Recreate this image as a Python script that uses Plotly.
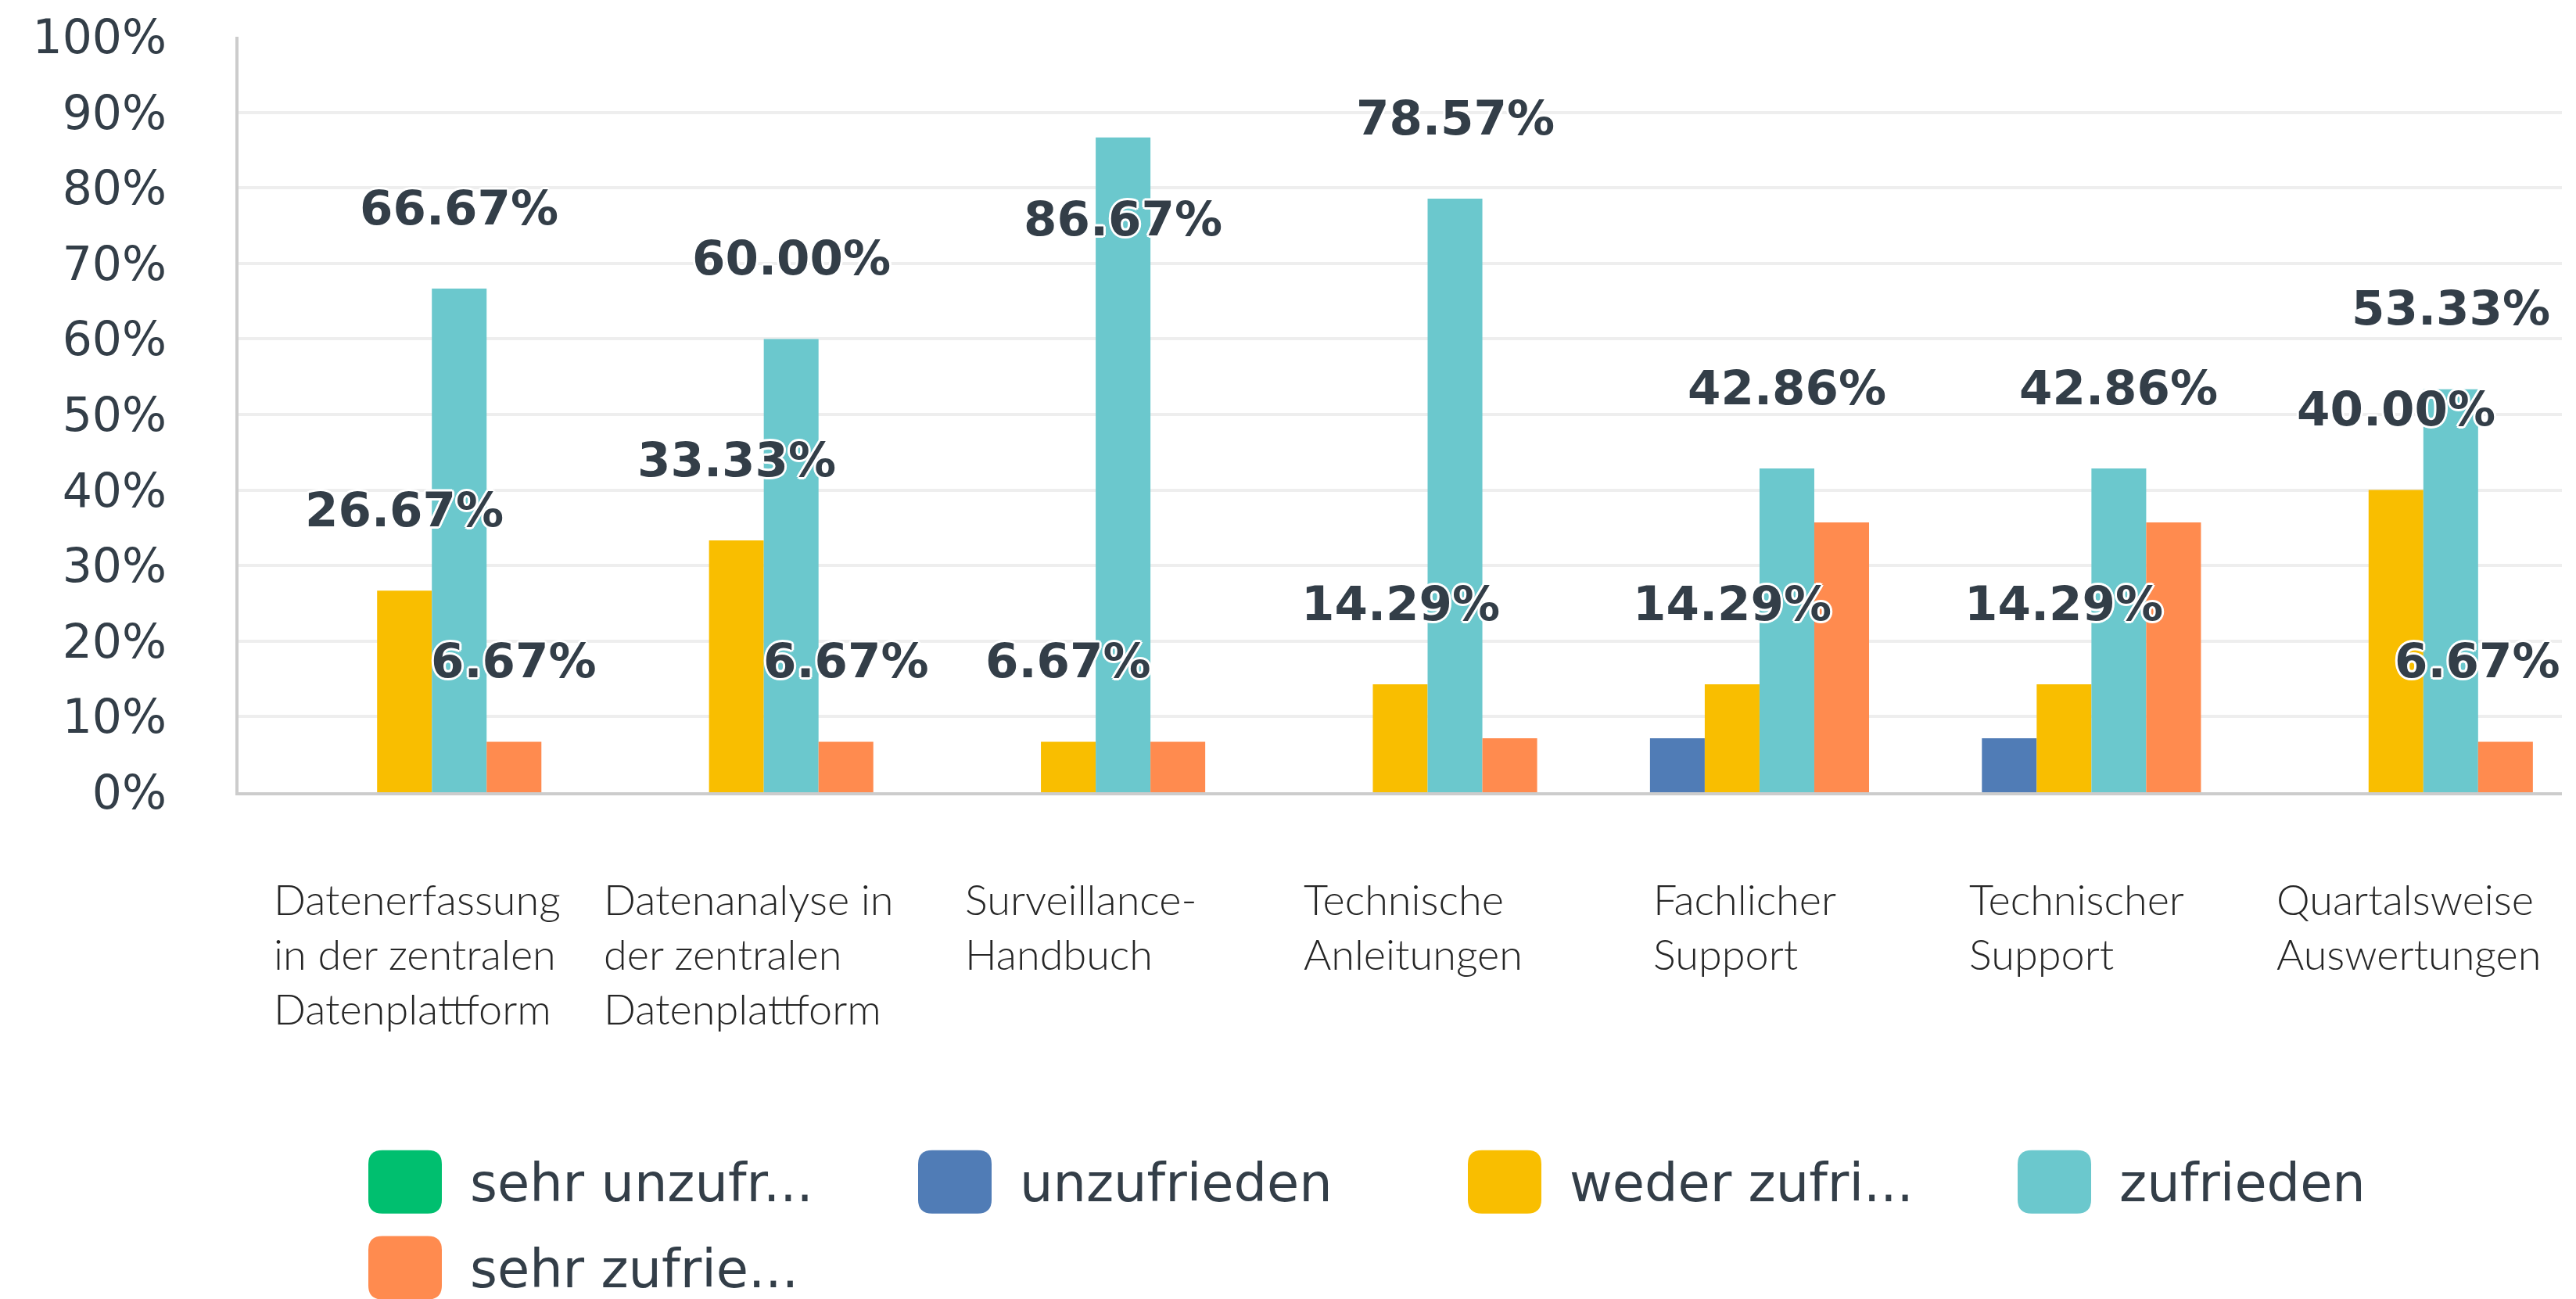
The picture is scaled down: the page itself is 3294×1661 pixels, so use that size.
import plotly.graph_objects as go

# ---------------- data ----------------
categories = [
    "Datenerfassung in der zentralen Datenplattform",
    "Datenanalyse in der zentralen Datenplattform",
    "Surveillance-Handbuch",
    "Technische Anleitungen",
    "Fachlicher Support",
    "Technischer Support",
    "Quartalsweise Auswertungen",
]
category_labels = [
    "Datenerfassung<br>in der zentralen<br>Datenplattform",
    "Datenanalyse in<br>der zentralen<br>Datenplattform",
    "Surveillance-<br>Handbuch",
    "Technische<br>Anleitungen",
    "Fachlicher<br>Support",
    "Technischer<br>Support",
    "Quartalsweise<br>Auswertungen",
]
series_names = ["sehr unzufr...", "unzufrieden", "weder zufri...", "zufrieden", "sehr zufrie..."]
sehr_unzufrieden = [0, 0, 0, 0, 0, 0, 0]
unzufrieden = [0, 0, 0, 0, 7.14, 7.14, 0]
weder = [26.67, 33.33, 6.67, 14.29, 14.29, 14.29, 40.00]
zufrieden = [66.67, 60.00, 86.67, 78.57, 42.86, 42.86, 53.33]
sehr_zufrieden = [6.67, 6.67, 6.67, 7.14, 35.71, 35.71, 6.67]
# which value labels are visible in the original (others hidden by overlap)
shown_sehr_unzufrieden = [0, 0, 0, 0, 0, 0, 0]
shown_unzufrieden = [0, 0, 0, 0, 0, 0, 0]
shown_weder = [1, 1, 1, 1, 1, 1, 1]
shown_zufrieden = [1, 1, 1, 1, 1, 1, 1]
shown_sehr_zufrieden = [1, 1, 0, 0, 0, 0, 1]
y_ticks = [0, 10, 20, 30, 40, 50, 60, 70, 80, 90, 100]
y_tick_text = ["0%", "10%", "20%", "30%", "40%", "50%", "60%", "70%", "80%", "90%", "100%"]

series_values = [sehr_unzufrieden, unzufrieden, weder, zufrieden, sehr_zufrieden]
series_shown = [shown_sehr_unzufrieden, shown_unzufrieden, shown_weder, shown_zufrieden, shown_sehr_zufrieden]
colors = ["#00BF6F", "#507CB6", "#F9BE00", "#6BC8CD", "#FF8B4F"]

# ---------------- layout constants ----------------
W, H = 3294, 1661
ML, MR, MT, MB = 305, 18, 36, 648
PW, PH = W - ML - MR, H - MT - MB
TEXT = "#333e48"
LIFT = 10.75      # label offset above bar top (in axis units)
FLIP_LIMIT = 95   # labels that would go above this are placed inside the bar
GAP = 0.175
LABEL_SIZE = 61
# approx. advance widths (em) of DejaVu Sans Bold for label characters
CHAR_W = {"%": 1.002, ".": 0.38}
DIGIT_W = 0.696

fig = go.Figure()
for name, vals, col in zip(series_names, series_values, colors):
    fig.add_trace(go.Bar(
        x=categories, y=vals, name=name, marker=dict(color=col, line=dict(width=0)),
        offsetgroup=name, showlegend=False, hoverinfo="skip",
    ))

halo = ("3px 0 0 #fff, -3px 0 0 #fff, 0 3px 0 #fff, 0 -3px 0 #fff, "
        "2px 2px 0 #fff, -2px -2px 0 #fff, 2px -2px 0 #fff, -2px 2px 0 #fff")
annotations = []
n_ser, n_cat = len(series_names), len(categories)
bw = (1 - GAP) / n_ser  # bar width in category units (bargroupgap = 0)
for k, (vals, shown) in enumerate(zip(series_values, series_shown)):
    for i, (v, s) in enumerate(zip(vals, shown)):
        if not (s and v > 0):
            continue
        txt = f"{v:.2f}%"
        xc = i + (k - (n_ser - 1) / 2) * bw
        y = v + LIFT if v + LIFT <= FLIP_LIMIT else v - LIFT
        width_px = LABEL_SIZE * sum(CHAR_W.get(c, DIGIT_W) for c in txt)
        center_px = ML + (xc + 0.5) / n_cat * PW
        ann = dict(x=xc, xref="x", y=y, yref="y", xanchor="center", yanchor="middle",
                   text=txt, showarrow=False,
                   font=dict(family="DejaVu Sans", size=LABEL_SIZE, color=TEXT,
                             weight="bold", shadow=halo))
        if center_px + width_px / 2 > ML + PW:   # keep label inside plot (as original)
            ann.update(x=n_cat - 0.5, xanchor="right")
        annotations.append(ann)

for cat, lab in zip(categories, category_labels):
    annotations.append(dict(
        x=cat, xref="x", y=0, yref="paper", yanchor="top", xanchor="center",
        yshift=-102, xshift=16, text=lab, align="left", showarrow=False,
        font=dict(family="Lato", size=54, color="#262626", weight=300),
    ))

# legend drawn as large rounded swatches
shapes = []
SW, SH, R = 94, 82, 18
LEG_X0, LEG_DX, LEG_Y0, LEG_DY, PER_ROW = 471, 703, 1476, 111, 4
def px2paper_x(px):
    return (px - ML) / PW
def px2paper_y(py):
    return (H - MB - py) / PH
for i, (name, col) in enumerate(zip(series_names, colors)):
    row, colidx = divmod(i, PER_ROW)
    x0 = LEG_X0 + colidx * LEG_DX
    y0 = LEG_Y0 + row * LEG_DY
    x1, y1 = x0 + SW, y0 + SH
    a0, a1 = px2paper_x(x0), px2paper_x(x1)
    b0, b1 = px2paper_y(y1), px2paper_y(y0)
    rx, ry = R / PW, R / PH
    path = (f"M{a0+rx},{b0} L{a1-rx},{b0} Q{a1},{b0} {a1},{b0+ry} L{a1},{b1-ry} "
            f"Q{a1},{b1} {a1-rx},{b1} L{a0+rx},{b1} Q{a0},{b1} {a0},{b1-ry} "
            f"L{a0},{b0+ry} Q{a0},{b0} {a0+rx},{b0} Z")
    shapes.append(dict(type="path", path=path, xref="paper", yref="paper",
                       fillcolor=col, line=dict(width=0), layer="above"))
    annotations.append(dict(
        x=px2paper_x(x1 + 34), xref="paper", y=px2paper_y(y0 + SH / 2 + 2), yref="paper",
        xanchor="left", yanchor="middle", text=name, showarrow=False,
        font=dict(family="DejaVu Sans", size=67, color=TEXT),
    ))

fig.update_layout(
    width=W, height=H, autosize=False,
    margin=dict(l=ML, r=MR, t=MT, b=MB, pad=0),
    paper_bgcolor="white", plot_bgcolor="white",
    barmode="group", bargap=GAP, bargroupgap=0,
    showlegend=False,
    shapes=shapes, annotations=annotations,
    xaxis=dict(showticklabels=False, showgrid=False, showline=True,
               linecolor="#cccccc", linewidth=4, ticks="", zeroline=False),
    yaxis=dict(range=[0, 100], tickvals=y_ticks, ticktext=y_tick_text,
               showgrid=True, gridcolor="#eeeeee", gridwidth=4,
               showline=True, linecolor="#cccccc", linewidth=4, zeroline=False,
               ticks="", ticklabelstandoff=76,
               tickfont=dict(family="DejaVu Sans", size=60, color=TEXT)),
)

fig.write_html("out.html",
               config={"displayModeBar": False},
               post_script="document.body.style.margin='0';"
                           "document.documentElement.style.overflow='hidden';")
